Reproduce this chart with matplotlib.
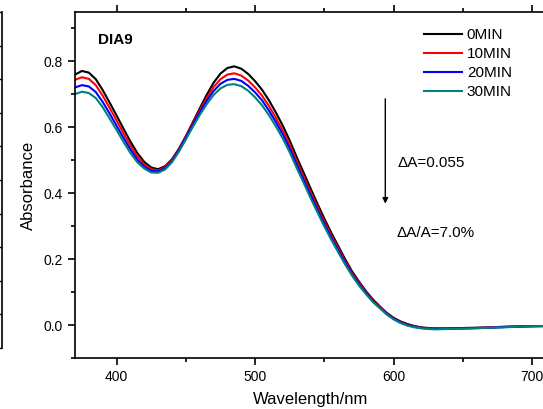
import matplotlib
matplotlib.use("Agg")
import matplotlib.pyplot as plt
from matplotlib.ticker import MultipleLocator

# Font settings (Arial-like)
plt.rcParams['font.family'] = ['Liberation Sans', 'DejaVu Sans']

# Wavelength (nm)
wavelength = [370, 375, 380, 385, 390, 395, 400, 405, 410, 415, 420, 425, 430, 435, 440,
              445, 450, 455, 460, 465, 470, 475, 480, 485, 490, 495, 500, 505, 510, 515,
              520, 525, 530, 535, 540, 545, 550, 555, 560, 565, 570, 575, 580, 585, 590,
              595, 600, 605, 610, 615, 620, 625, 630, 640, 650, 660, 670, 680, 690, 700, 710]

# Absorbance for each irradiation time
abs_0min = [0.760, 0.771, 0.766, 0.746, 0.713, 0.675, 0.636, 0.596, 0.557, 0.522, 0.495, 0.478, 0.473, 0.482, 0.503,
            0.535, 0.573, 0.615, 0.657, 0.698, 0.735, 0.763, 0.780, 0.785, 0.778, 0.762, 0.740, 0.714, 0.682, 0.645,
            0.605, 0.560, 0.510, 0.463, 0.415, 0.368, 0.323, 0.280, 0.240, 0.200, 0.163, 0.132, 0.103, 0.078, 0.057,
            0.037, 0.022, 0.011, 0.003, -0.003, -0.007, -0.009, -0.010, -0.010, -0.009, -0.008, -0.007, -0.005, -0.004, -0.003, -0.003]
abs_10min = [0.744, 0.752, 0.747, 0.728, 0.696, 0.659, 0.621, 0.582, 0.545, 0.512, 0.488, 0.473, 0.469, 0.479, 0.501,
             0.533, 0.571, 0.611, 0.651, 0.689, 0.722, 0.746, 0.760, 0.764, 0.757, 0.742, 0.721, 0.696, 0.665, 0.629,
             0.590, 0.546, 0.497, 0.451, 0.404, 0.358, 0.314, 0.272, 0.233, 0.194, 0.158, 0.128, 0.100, 0.075, 0.055,
             0.035, 0.020, 0.009, 0.001, -0.004, -0.008, -0.010, -0.011, -0.011, -0.010, -0.009, -0.007, -0.006, -0.004, -0.003, -0.003]
abs_20min = [0.721, 0.728, 0.724, 0.707, 0.677, 0.642, 0.605, 0.568, 0.533, 0.502, 0.481, 0.468, 0.466, 0.476, 0.498,
             0.530, 0.568, 0.607, 0.645, 0.680, 0.710, 0.732, 0.744, 0.747, 0.741, 0.726, 0.706, 0.682, 0.651, 0.616,
             0.578, 0.535, 0.487, 0.441, 0.395, 0.350, 0.306, 0.265, 0.227, 0.189, 0.154, 0.124, 0.097, 0.073, 0.053,
             0.034, 0.019, 0.008, 0.000, -0.005, -0.009, -0.011, -0.012, -0.011, -0.010, -0.009, -0.008, -0.006, -0.005, -0.004, -0.003]
abs_30min = [0.701, 0.708, 0.704, 0.689, 0.661, 0.627, 0.592, 0.556, 0.522, 0.494, 0.475, 0.463, 0.462, 0.472, 0.494,
             0.526, 0.563, 0.601, 0.637, 0.670, 0.698, 0.718, 0.729, 0.731, 0.725, 0.711, 0.691, 0.667, 0.637, 0.603,
             0.566, 0.524, 0.477, 0.432, 0.386, 0.342, 0.299, 0.259, 0.221, 0.184, 0.150, 0.120, 0.094, 0.070, 0.051,
             0.032, 0.017, 0.006, -0.002, -0.007, -0.010, -0.012, -0.013, -0.012, -0.011, -0.010, -0.008, -0.007, -0.005, -0.004, -0.003]

series = [abs_0min, abs_10min, abs_20min, abs_30min]
labels = ['0MIN', '10MIN', '20MIN', '30MIN']
colors = ['#000000', '#ff0000', '#0000ff', '#008080']

fig = plt.figure(figsize=(5.43, 4.09), dpi=100)

# Edge of the neighbouring panel (cut off on the left)
ax0 = fig.add_axes([-0.3, 0.149, 0.3 + 2 / 543, 0.8217])
for side in ['left', 'top', 'bottom']:
    ax0.spines[side].set_visible(False)
ax0.spines['right'].set_linewidth(1.2)
ax0.set_xticks([])
ax0.set_ylim(0, 10)
ax0.yaxis.set_major_locator(MultipleLocator(1))
ax0.tick_params(axis='y', left=False, right=True, labelleft=False, direction='in', length=3, width=1)

# Main panel
ax = fig.add_axes([75 / 543, 0.1247, 471 / 543, 0.846])
for y, lab, c in zip(series, labels, colors):
    ax.plot(wavelength, y, color=c, lw=1.5, label=lab)

ax.set_xlim(370, 710)
ax.set_ylim(-0.1, 0.95)
ax.xaxis.set_major_locator(MultipleLocator(100))
ax.xaxis.set_minor_locator(MultipleLocator(50))
ax.yaxis.set_major_locator(MultipleLocator(0.2))
ax.yaxis.set_minor_locator(MultipleLocator(0.1))
ax.tick_params(which='both', direction='out', top=True, right=True, width=1.2, labelsize=10)
ax.tick_params(which='major', length=5)
ax.tick_params(which='minor', length=3)
for s in ax.spines.values():
    s.set_linewidth(1.2)

ax.set_xlabel('Wavelength/nm', fontsize=12, labelpad=6)
ax.set_ylabel('Absorbance', fontsize=12, labelpad=6)

# Annotations
ax.text(386.6, 0.865, 'DIA9', fontsize=11, fontweight='bold', va='center')
ax.annotate('', xy=(594, 0.36), xytext=(594, 0.695),
            arrowprops=dict(arrowstyle='-|>', color='black', lw=1, mutation_scale=8))
ax.text(603, 0.492, '\u0394A=0.055', fontsize=11, va='center')
ax.text(602, 0.279, '\u0394A/A=7.0%', fontsize=11, va='center')

ax.legend(loc='upper left', bbox_to_anchor=(424 / 543, 1 - 28 / 409), bbox_transform=fig.transFigure,
          frameon=False, fontsize=11, handlelength=2.5, handletextpad=0.3, labelspacing=0.33,
          borderpad=0, borderaxespad=0)

plt.savefig('out.png', dpi=100)
